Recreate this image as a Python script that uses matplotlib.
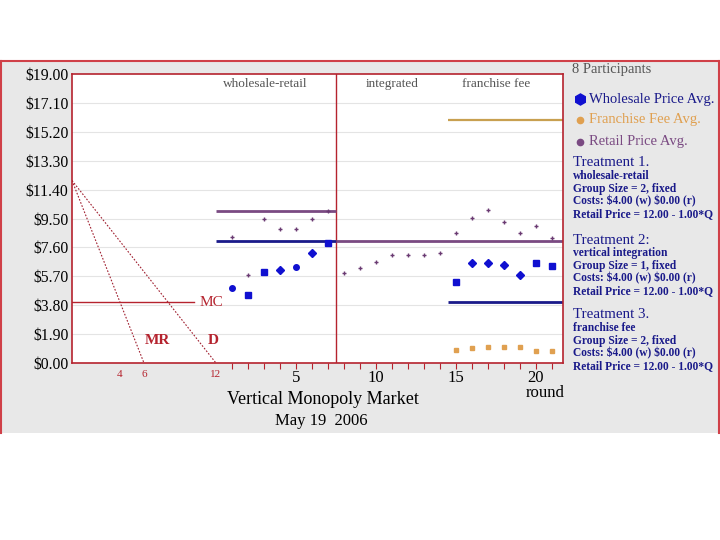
import numpy as np
import matplotlib
matplotlib.use("Agg")
import matplotlib.pyplot as plt
from matplotlib.patches import Rectangle
from matplotlib.lines import Line2D

plt.rcParams['font.family'] = ['Liberation Serif', 'DejaVu Serif']

# --- data -------------------------------------------------------------
rounds_wr = [1, 2, 3, 4, 5, 6, 7]
wholesale_wr = [4.91, 4.47, 5.96, 6.09, 6.33, 7.21, 7.87]
markers_wr = ['o', 's', 's', 'D', 'o', 'D', 's']
retail_wr = [8.27, 5.81, 9.49, 8.81, 8.81, 9.49, 10.01]

rounds_int = [8, 9, 10, 11, 12, 13, 14]
retail_int = [5.90, 6.27, 6.66, 7.10, 7.10, 7.10, 7.25]

rounds_ff = [15, 16, 17, 18, 19, 20, 21]
wholesale_ff = [5.30, 6.55, 6.55, 6.44, 5.79, 6.55, 6.40]
markers_ff = ['s', 'D', 'D', 'D', 'D', 's', 's']
retail_ff = [8.53, 9.51, 10.04, 9.29, 8.53, 9.00, 8.24]
fee_ff = [0.85, 0.96, 1.07, 1.07, 1.03, 0.81, 0.81]

# theory lines (price, start round, end round)
bench_blue = [(8.0, 0, 7.5), (4.0, 14.5, 21.7)]
bench_purple = [(10.0, 0, 7.5), (8.0, 7.5, 21.7)]
bench_orange = [(16.0, 14.5, 21.7)]

# demand diagram on the left (quantity units)
demand_q = [0, 12]
demand_p = [12, 0]
mr_q = [0, 6]
mr_p = [12, 0]
mc_q = [0, 10.2]
mc_p = [4, 4]
q_labels = [4, 6, 12]

yticks = [0, 1.9, 3.8, 5.7, 7.6, 9.5, 11.4, 13.3, 15.2, 17.1, 19.0]
xticks = [5, 10, 15, 20]
sections = [('wholesale-retail', 3.1), ('integrated', 11.0), ('franchise fee', 17.5)]

# colours
RED = '#b5232e'
BLUE = '#1010d0'
NAVY = '#1a1a8a'
PURPLE = '#7a4a82'
ORANGE = '#e0a050'
GOLD = '#c8a050'
GRAY_BG = '#e8e8e8'


def q2r(q):
    # quantity -> round axis position (Q=12 lands on round 0)
    return -9 + 0.75 * np.asarray(q, dtype=float)


W, H = 720, 540
fig = plt.figure(figsize=(7.2, 5.4), dpi=100)


def fx(x):
    return x / W


def fy(y):
    return 1 - y / H


# outer gray panel with red frame
fig.patches.append(Rectangle((fx(1), fy(433)), fx(718), (433 - 61) / H,
                             transform=fig.transFigure, facecolor=GRAY_BG,
                             edgecolor='none', zorder=-5))
for xs, ys in [([1, 1], [61, 433]), ([1, 719], [61, 61]), ([719, 719], [61, 433])]:
    fig.add_artist(Line2D([fx(v) for v in xs], [fy(v) for v in ys],
                          color='#d04048', lw=1.5, transform=fig.transFigure, zorder=-4))

ax = fig.add_axes([fx(72), fy(363), (563 - 72) / W, (363 - 74) / H])
ax.set_zorder(2)
ax.set_facecolor('white')
ax.set_xlim(-9, 21.7)
ax.set_ylim(0, 19)
for s in ax.spines.values():
    s.set_color(RED)
    s.set_linewidth(1.2)

ax.set_yticks(yticks)
ax.set_yticklabels(['\\$%.2f' % v for v in yticks], fontsize=11.3)
ax.tick_params(axis='y', length=0, pad=2.5)
for v in yticks[1:-1]:
    ax.axhline(v, color='#e4e4e4', lw=0.8, zorder=0)

ax.set_xticks(xticks)
ax.set_xticklabels([str(v) for v in xticks], fontsize=12)
ax.set_xticks(range(1, 22), minor=True)
ax.tick_params(axis='x', which='both', direction='out', length=4,
               color=RED, width=0.8, pad=1)

# demand diagram
ax.plot(q2r(demand_q), demand_p, color='#a02030', lw=0.8, ls=(0, (1.5, 1.5)))
ax.plot(q2r(mr_q), mr_p, color='#a02030', lw=0.8, ls=(0, (1.5, 1.5)))
ax.plot(q2r(mc_q), mc_p, color=RED, lw=1.0)
ax.text(q2r(mc_q[1]) + 0.35, 4.0, 'MC', color=RED, fontsize=11, va='center')
ax.text(q2r(6.1), 1.45, 'MR', color=RED, fontsize=11, fontweight='bold', va='center')
ax.text(q2r(11.3), 1.45, 'D', color=RED, fontsize=11, fontweight='bold', va='center')
for q in q_labels:
    ax.text(q2r(q), -0.75, str(q), color=RED, fontsize=8,
            ha='center', va='center', clip_on=False)

# section divider and labels
ax.axvline(7.5, color=RED, lw=1.0)
for name, xpos in sections:
    ax.text(xpos, 18.35, name, color='#555555', fontsize=9.5, ha='center', va='center')

# theory benchmarks
for p, a, b in bench_blue:
    ax.plot([a, b], [p, p], color=NAVY, lw=2, solid_capstyle='butt')
for p, a, b in bench_purple:
    ax.plot([a, b], [p, p], color=PURPLE, lw=2, solid_capstyle='butt')
for p, a, b in bench_orange:
    ax.plot([a, b], [p, p], color=GOLD, lw=1.6, solid_capstyle='butt')

# observed averages
for r, v, m in zip(rounds_wr + rounds_ff, wholesale_wr + wholesale_ff, markers_wr + markers_ff):
    ax.plot(r, v, marker=m, color=BLUE, ms=4 if m != 's' else 3.8, ls='none')
ax.plot(rounds_wr + rounds_int + rounds_ff, retail_wr + retail_int + retail_ff,
        marker='+', color='#6a3a72', ms=3, mew=1.0, ls='none')
ax.plot(rounds_ff, fee_ff, marker='s', color=ORANGE, ms=3, ls='none')

# axis captions
fig.text(fx(545), fy(393), 'round', fontsize=12, ha='center', va='center')
fig.text(fx(323), fy(400), 'Vertical Monopoly Market', fontsize=13, ha='center', va='center')
fig.text(fx(321), fy(421), 'May 19  2006', fontsize=12, ha='center', va='center')

# right-hand legend panel
fig.text(fx(572), fy(70), '8 Participants', fontsize=10.5, color='#555555', va='center')
legend_rows = [('Wholesale Price Avg.', BLUE, NAVY, 'h', 8, 99),
               ('Franchise Fee Avg.', ORANGE, ORANGE, 'o', 4.5, 120),
               ('Retail Price Avg.', PURPLE, PURPLE, 'o', 4.5, 142)]
for label, mcol, tcol, m, ms, y in legend_rows:
    fig.add_artist(Line2D([fx(580)], [fy(y)], marker=m, ms=ms, color=mcol,
                          ls='none', transform=fig.transFigure))
    fig.text(fx(589), fy(y), label, fontsize=10.5, color=tcol, va='center')

treatments = [('Treatment 1.', 'wholesale-retail', 'Group Size = 2, fixed', 163),
              ('Treatment 2:', 'vertical integration', 'Group Size = 1, fixed', 240),
              ('Treatment 3.', 'franchise fee', 'Group Size = 2, fixed', 315)]
for head, name, group, y in treatments:
    fig.text(fx(573), fy(y), head, fontsize=10.8, color=NAVY, va='center')
    lines = [name, group, 'Costs: \\$4.00 (w) \\$0.00 (r)', 'Retail Price = 12.00 - 1.00*Q']
    for i, t in enumerate(lines):
        fig.text(fx(573), fy(y + 13 + 12.6 * i), t, fontsize=8.3, color=NAVY,
                 fontweight='bold', va='center')

fig.savefig('out.png', dpi=100, facecolor='white')
